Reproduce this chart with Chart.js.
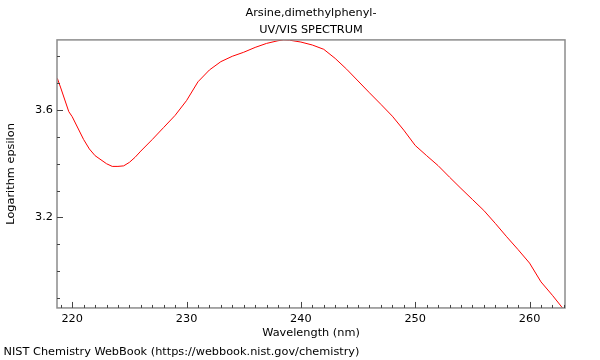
<!DOCTYPE html>
<html>
<head>
<meta charset="utf-8">
<script src="https://cdn.jsdelivr.net/npm/chart.js@4/dist/chart.umd.min.js"></script>
<style>
  html, body { margin: 0; padding: 0; background: #fff; }
  #wrap { width: 600px; height: 360px; }
</style>
</head>
<body>
<div id="wrap"><canvas id="spectrum"></canvas></div>
<script>
// wavelength (nm) and log epsilon
const wavelengths = [218.7, 219, 219.7, 220, 221, 221.5, 222, 223, 223.5, 224, 224.5, 225, 225.5, 226, 227, 228, 229, 230,
  231, 232, 233, 234, 235, 236, 237, 238, 238.5, 239, 240, 241, 242, 243, 244, 245, 246, 247, 248, 249, 250,
  251, 252, 253, 254, 255, 256, 257, 258, 259, 260, 261, 262, 262.9];
const logEpsilon = [3.718, 3.682, 3.594, 3.575, 3.49, 3.455, 3.43, 3.40, 3.39, 3.39, 3.392, 3.405, 3.424, 3.447, 3.49, 3.535, 3.58, 3.635,
  3.705, 3.749, 3.78, 3.80, 3.815, 3.833, 3.848, 3.858, 3.861, 3.860, 3.853, 3.842, 3.826, 3.792, 3.752, 3.708, 3.664, 3.621, 3.577, 3.525, 3.468,
  3.43, 3.393, 3.35, 3.308, 3.267, 3.226, 3.178, 3.128, 3.08, 3.03, 2.96, 2.91, 2.862];

const xLabels = [220, 230, 240, 250, 260];
const yLabels = [3.2, 3.6];

const FONT = 'DejaVu Sans';
const SIZE = 11.3;

// frame around the plot plus short inward tick marks
const frameAndTicks = {
  id: 'frameAndTicks',
  afterDatasetsDraw(chart) {
    const { ctx, chartArea: a, scales } = chart;
    ctx.save();
    ctx.strokeStyle = '#8c8c8c';
    ctx.lineWidth = 1.5;
    ctx.strokeRect(a.left, a.top, a.right - a.left, a.bottom - a.top);

    ctx.strokeStyle = '#444';
    ctx.lineWidth = 1;
    ctx.beginPath();
    for (let v = 219; v <= 263; v++) {
      const px = Math.round(scales.x.getPixelForValue(v)) + 0.5;
      const len = xLabels.includes(v) ? 6 : 3;
      ctx.moveTo(px, a.bottom);
      ctx.lineTo(px, a.bottom - len);
    }
    for (let i = 29; i <= 38; i++) {
      const v = i / 10;
      const py = Math.round(scales.y.getPixelForValue(v)) + 0.5;
      const len = i % 4 === 0 ? 6 : 3;
      ctx.moveTo(a.left, py);
      ctx.lineTo(a.left + len, py);
    }
    ctx.stroke();
    ctx.restore();
  }
};

new Chart(document.getElementById('spectrum'), {
  type: 'line',
  data: {
    datasets: [{
      data: wavelengths.map((w, i) => ({ x: w, y: logEpsilon[i] })),
      borderColor: '#ff0000',
      borderWidth: 1,
      pointRadius: 0,
      tension: 0,
      fill: false
    }]
  },
  options: {
    responsive: true,
    maintainAspectRatio: false,
    animation: false,
    layout: { padding: { left: 0, right: 35, top: 0, bottom: 0 } },
    plugins: {
      legend: { display: false },
      tooltip: { enabled: false },
      title: {
        display: true,
        fullSize: false,
        text: ['Arsine,dimethylphenyl-', 'UV/VIS SPECTRUM'],
        color: '#000',
        font: { family: FONT, size: SIZE, weight: 'normal', lineHeight: 1.5 },
        padding: { top: 5, bottom: 1 }
      },
      subtitle: {
        display: true,
        position: 'bottom',
        align: 'start',
        text: ' NIST Chemistry WebBook (https://webbook.nist.gov/chemistry)',
        color: '#000',
        font: { family: FONT, size: SIZE, weight: 'normal' },
        padding: { top: 2, bottom: 1 }
      }
    },
    scales: {
      x: {
        type: 'linear',
        min: 218.67,
        max: 263.1,
        afterFit: s => { s.height = 35.5; },
        grid: { display: false, drawTicks: false },
        border: { display: false },
        ticks: {
          stepSize: 1,
          autoSkip: false,
          maxRotation: 0,
          padding: 4,
          color: '#000',
          font: { family: FONT, size: SIZE },
          callback: v => xLabels.includes(v) ? String(v) : null
        },
        title: {
          display: true,
          text: 'Wavelength (nm)',
          color: '#000',
          font: { family: FONT, size: SIZE },
          padding: { top: 0, bottom: 4 }
        }
      },
      y: {
        type: 'linear',
        min: 2.863,
        max: 3.861,
        afterFit: s => { s.width = 57; },
        grid: { display: false, drawTicks: false },
        border: { display: false },
        ticks: {
          stepSize: 0.1,
          autoSkip: false,
          padding: 4,
          color: '#000',
          font: { family: FONT, size: SIZE },
          callback: v => {
            const r = Math.round(v * 10) / 10;
            return yLabels.some(l => Math.abs(l - r) < 1e-6) && Math.abs(v - r) < 1e-6 ? r.toFixed(1) : null;
          }
        },
        title: {
          display: true,
          text: 'Logarithm epsilon',
          color: '#000',
          font: { family: FONT, size: SIZE },
          padding: { top: 4, bottom: 0 }
        }
      }
    }
  },
  plugins: [frameAndTicks]
});
</script>
</body>
</html>
